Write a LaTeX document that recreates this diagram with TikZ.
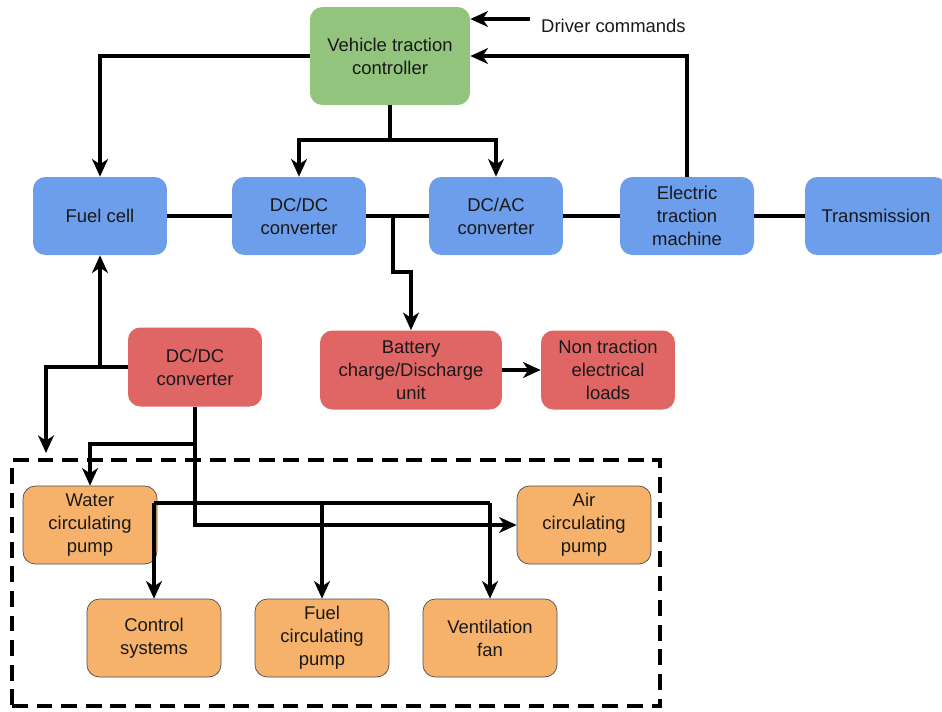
\documentclass[tikz,border=0pt]{standalone}
\usepackage{fontspec}
\setmainfont{Liberation Sans}
\usetikzlibrary{arrows.meta}

\definecolor{ctrlgreen}{HTML}{93C47D}
\definecolor{convblue}{HTML}{6D9EEB}
\definecolor{auxred}{HTML}{E06666}
\definecolor{pumporange}{HTML}{F6B26B}

\tikzset{
  block/.style={rectangle, rounded corners=7pt, minimum width=2.68cm, minimum height=1.56cm,
    align=center, font=\fontsize{10.5}{13}\selectfont, text=black!90},
  link/.style={line width=1.8pt},
  feed/.style={link, -{Stealth[length=10pt,width=9pt,inset=3pt]}},
}

\begin{document}
\begin{tikzpicture}[x=0.02cm, y=-0.02cm]
  \useasboundingbox (0,0) rectangle (942,711);

  % Controller
  \node[block, fill=ctrlgreen, minimum width=3.2cm, minimum height=1.96cm] (vtc) at (390,56)
    {Vehicle traction\\controller};
  \node[anchor=west, font=\fontsize{10.5}{13}\selectfont, text=black!90] (driver) at (535,26) {Driver commands};
  \coordinate (drv) at (530,19);

  % Traction chain
  \node[block, fill=convblue] (fc) at (100,216) {Fuel cell};
  \node[block, fill=convblue] (dcdc) at (299,216) {DC/DC\\converter};
  \node[block, fill=convblue] (dcac) at (496,216) {DC/AC\\converter};
  \node[block, fill=convblue] (etm) at (687,216) {Electric\\traction\\machine};
  \node[block, fill=convblue, minimum width=2.84cm] (trans) at (876,216) {Transmission};

  % Auxiliary supply
  \node[block, fill=auxred, minimum height=1.58cm] (aux) at (195,367) {DC/DC\\converter};
  \node[block, fill=auxred, minimum width=3.64cm, minimum height=1.58cm] (battery) at (411,370)
    {Battery\\charge/Discharge\\unit};
  \node[block, fill=auxred, minimum height=1.58cm] (loads) at (608,370) {Non traction\\electrical\\loads};

  % Auxiliary loads group
  \node[draw, line width=1.8pt, dash pattern=on 9pt off 5pt, minimum width=12.96cm,
    minimum height=4.92cm] (group) at (336,583) {};
  \node[block, fill=pumporange, draw=black!70, thin] (water) at (90,525) {Water\\circulating\\pump};
  \node[block, fill=pumporange, draw=black!70, thin] (air) at (584,525) {Air\\circulating\\pump};
  \node[block, fill=pumporange, draw=black!70, thin] (ctrl) at (154,638) {Control\\systems};
  \node[block, fill=pumporange, draw=black!70, thin] (fuelpump) at (322,638) {Fuel\\circulating\\pump};
  \node[block, fill=pumporange, draw=black!70, thin] (vent) at (490,638) {Ventilation\\fan};

  % Control signals
  \draw[feed] (drv) -- (vtc.east |- drv);
  \draw[feed] (vtc.west) -| (fc.north);
  \coordinate (split) at (390,140);
  \draw[link] (vtc.south) -- (split);
  \draw[feed] (split) -| (dcdc.north);
  \draw[feed] (split) -| (dcac.north);
  \draw[feed] (etm.north) |- (vtc.east);

  % Power lines
  \draw[link] (fc) -- (dcdc);
  \draw[link] (dcdc) -- (dcac);
  \draw[link] (dcac) -- (etm);
  \draw[link] (etm) -- (trans);
  \coordinate (tap) at (393,216);
  \draw[feed] (tap) -- (393,272) -| (battery.north);
  \draw[feed] (battery) -- (loads);

  % Auxiliary feeds
  \coordinate (fcjoin) at (fc.south |- aux.west);
  \coordinate (boxin) at (46,453);
  \draw[feed] (fcjoin) -- (fc.south);
  \draw[feed] (aux.west) -| (boxin);
  \draw[feed] (aux.south) |- (air.west);
  \coordinate (wsplit) at (aux.south |- 0,444);
  \draw[feed] (wsplit) -| (water.north);
  \coordinate (wout) at (154,503);
  \draw[link] (wout) -- (vent.north |- wout);
  \draw[feed] (wout) -- (ctrl.north);
  \draw[feed] (fuelpump.north |- wout) -- (fuelpump.north);
  \draw[feed] (vent.north |- wout) -- (vent.north);
\end{tikzpicture}
\end{document}
